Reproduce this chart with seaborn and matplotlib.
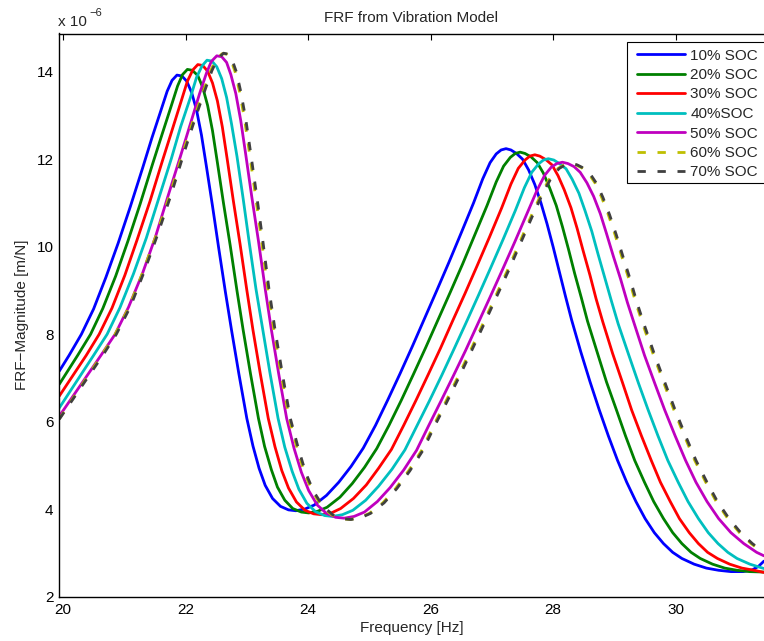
import matplotlib
matplotlib.use("Agg")
import matplotlib.pyplot as plt
import matplotlib.patches as mpatches
import seaborn as sns
import pandas as pd

# ---------------- data (FRF magnitude, units of 1e-6 m/N) ----------------
freq_10 = [19.94, 20.1, 20.3, 20.5, 20.7, 20.9, 21.1, 21.3, 21.45, 21.6, 21.7, 21.78, 21.86, 21.94,
           22.02, 22.1, 22.18, 22.26, 22.34, 22.44, 22.54, 22.65, 22.75, 22.87, 23.0, 23.1, 23.2, 23.3,
           23.42, 23.55, 23.68, 23.8, 23.95, 24.1, 24.3, 24.5, 24.7, 24.9, 25.1, 25.3, 25.5, 25.7,
           25.9, 26.1, 26.3, 26.5, 26.7, 26.85, 26.97, 27.07, 27.15, 27.23, 27.31, 27.4, 27.5, 27.6,
           27.7, 27.8, 27.9, 28.0, 28.1, 28.2, 28.3, 28.45, 28.6, 28.75, 28.9, 29.05, 29.2, 29.35,
           29.5, 29.65, 29.8, 29.95, 30.1, 30.3, 30.5, 30.7, 30.9, 31.1, 31.25, 31.35, 31.44]
mag_10 = [7.16, 7.52, 8.0, 8.58, 9.3, 10.08, 10.92, 11.8, 12.48, 13.12, 13.55, 13.8, 13.92, 13.9,
          13.78, 13.52, 13.12, 12.55, 11.84, 10.93, 9.98, 8.97, 8.1, 7.1, 6.08, 5.45, 4.94, 4.55,
          4.25, 4.07, 3.99, 3.97, 4.01, 4.1, 4.32, 4.62, 4.98, 5.4, 5.92, 6.5, 7.1, 7.72,
          8.36, 9.0, 9.65, 10.32, 11.0, 11.55, 11.92, 12.12, 12.21, 12.24, 12.21, 12.13, 12.0, 11.75,
          11.42, 11.0, 10.52, 9.99, 9.43, 8.87, 8.33, 7.6, 6.92, 6.28, 5.68, 5.12, 4.62, 4.18,
          3.79, 3.47, 3.22, 3.02, 2.88, 2.75, 2.66, 2.61, 2.58, 2.58, 2.62, 2.7, 2.82]

freq_20 = [19.94, 20.24, 20.45, 20.65, 20.86, 21.06, 21.26, 21.46, 21.62, 21.77, 21.87, 21.95, 22.03, 22.11,
           22.2, 22.28, 22.36, 22.44, 22.52, 22.62, 22.73, 22.84, 22.94, 23.06, 23.19, 23.29, 23.4, 23.5,
           23.62, 23.75, 23.89, 24.01, 24.16, 24.31, 24.52, 24.72, 24.92, 25.12, 25.32, 25.52, 25.72, 25.92,
           26.12, 26.32, 26.52, 26.72, 26.92, 27.07, 27.19, 27.3, 27.38, 27.46, 27.54, 27.64, 27.74, 27.84,
           27.94, 28.05, 28.15, 28.25, 28.35, 28.46, 28.56, 28.72, 28.87, 29.03, 29.18, 29.33, 29.49, 29.64,
           29.8, 29.95, 30.1, 30.25, 30.4, 30.6, 30.8, 31.0, 31.2, 31.44]
mag_20 = [6.86, 7.52, 8.0, 8.59, 9.33, 10.13, 10.98, 11.88, 12.58, 13.23, 13.67, 13.93, 14.05, 14.03,
          13.91, 13.64, 13.23, 12.65, 11.92, 10.99, 10.02, 8.99, 8.1, 7.1, 6.08, 5.44, 4.91, 4.51,
          4.21, 4.02, 3.94, 3.92, 3.96, 4.05, 4.28, 4.59, 4.96, 5.39, 5.92, 6.49, 7.09, 7.7,
          8.33, 8.96, 9.6, 10.27, 10.94, 11.48, 11.84, 12.04, 12.13, 12.16, 12.13, 12.05, 11.92, 11.68,
          11.35, 10.94, 10.46, 9.94, 9.39, 8.83, 8.3, 7.58, 6.91, 6.28, 5.68, 5.12, 4.62, 4.18,
          3.79, 3.47, 3.22, 3.02, 2.88, 2.75, 2.66, 2.61, 2.58, 2.57]

freq_30 = [19.94, 20.38, 20.59, 20.8, 21.01, 21.21, 21.42, 21.62, 21.78, 21.93, 22.03, 22.12, 22.2, 22.28,
           22.36, 22.44, 22.52, 22.6, 22.68, 22.78, 22.89, 23.0, 23.1, 23.22, 23.35, 23.46, 23.57, 23.68,
           23.81, 23.95, 24.09, 24.22, 24.38, 24.53, 24.74, 24.95, 25.15, 25.36, 25.56, 25.76, 25.96, 26.16,
           26.36, 26.56, 26.76, 26.96, 27.16, 27.31, 27.43, 27.54, 27.62, 27.7, 27.78, 27.88, 27.98, 28.08,
           28.18, 28.29, 28.39, 28.49, 28.6, 28.7, 28.81, 28.97, 29.13, 29.28, 29.44, 29.6, 29.75, 29.91,
           30.06, 30.22, 30.37, 30.52, 30.68, 30.88, 31.08, 31.28, 31.44]
mag_30 = [6.59, 7.52, 8.0, 8.6, 9.35, 10.16, 11.04, 11.95, 12.66, 13.33, 13.78, 14.04, 14.16, 14.14,
          14.01, 13.74, 13.33, 12.74, 12.0, 11.05, 10.06, 9.01, 8.1, 7.1, 6.08, 5.43, 4.89, 4.49,
          4.17, 3.98, 3.9, 3.88, 3.92, 4.02, 4.25, 4.56, 4.94, 5.37, 5.92, 6.49, 7.08, 7.68,
          8.31, 8.93, 9.57, 10.22, 10.89, 11.43, 11.79, 11.98, 12.07, 12.1, 12.07, 11.99, 11.87, 11.62,
          11.3, 10.89, 10.42, 9.9, 9.35, 8.81, 8.28, 7.56, 6.9, 6.27, 5.68, 5.12, 4.62, 4.18,
          3.79, 3.47, 3.22, 3.02, 2.88, 2.75, 2.66, 2.61, 2.56]

freq_40 = [19.94, 20.5, 20.72, 20.93, 21.15, 21.36, 21.56, 21.77, 21.92, 22.08, 22.18, 22.27, 22.35, 22.43,
           22.51, 22.59, 22.67, 22.75, 22.84, 22.94, 23.04, 23.15, 23.26, 23.38, 23.51, 23.62, 23.74, 23.85,
           23.98, 24.12, 24.27, 24.4, 24.56, 24.73, 24.94, 25.15, 25.37, 25.58, 25.78, 25.98, 26.18, 26.38,
           26.58, 26.78, 26.98, 27.18, 27.38, 27.53, 27.65, 27.76, 27.84, 27.92, 28.01, 28.1, 28.21, 28.31,
           28.42, 28.52, 28.63, 28.73, 28.84, 28.95, 29.06, 29.23, 29.39, 29.55, 29.71, 29.87, 30.04, 30.2,
           30.37, 30.53, 30.69, 30.85, 31.0, 31.21, 31.44]
mag_40 = [6.32, 7.52, 8.0, 8.61, 9.38, 10.2, 11.09, 12.02, 12.74, 13.41, 13.87, 14.13, 14.26, 14.24,
          14.11, 13.84, 13.41, 12.81, 12.06, 11.1, 10.09, 9.03, 8.11, 7.1, 6.08, 5.42, 4.87, 4.46,
          4.14, 3.95, 3.86, 3.84, 3.88, 3.98, 4.21, 4.53, 4.92, 5.36, 5.92, 6.48, 7.06, 7.66,
          8.27, 8.89, 9.52, 10.16, 10.82, 11.35, 11.7, 11.89, 11.98, 12.01, 11.98, 11.9, 11.78, 11.54,
          11.22, 10.82, 10.35, 9.84, 9.3, 8.76, 8.24, 7.54, 6.89, 6.27, 5.68, 5.12, 4.62, 4.18,
          3.79, 3.47, 3.22, 3.02, 2.88, 2.75, 2.65]

freq_50 = [19.94, 20.62, 20.85, 21.07, 21.3, 21.51, 21.71, 21.92, 22.08, 22.23, 22.34, 22.42, 22.51, 22.59,
           22.67, 22.74, 22.82, 22.9, 22.98, 23.08, 23.19, 23.3, 23.4, 23.52, 23.65, 23.77, 23.89, 24.01,
           24.15, 24.3, 24.45, 24.59, 24.75, 24.92, 25.13, 25.34, 25.56, 25.77, 25.97, 26.17, 26.37, 26.57,
           26.77, 26.97, 27.17, 27.37, 27.57, 27.73, 27.86, 27.97, 28.06, 28.15, 28.24, 28.34, 28.44, 28.55,
           28.66, 28.77, 28.87, 28.98, 29.1, 29.21, 29.33, 29.49, 29.66, 29.82, 29.99, 30.16, 30.33, 30.51,
           30.7, 30.9, 31.11, 31.32, 31.44]
mag_50 = [6.13, 7.52, 8.0, 8.62, 9.4, 10.23, 11.14, 12.08, 12.81, 13.5, 13.96, 14.23, 14.36, 14.34,
          14.21, 13.93, 13.5, 12.89, 12.13, 11.15, 10.13, 9.04, 8.11, 7.1, 6.08, 5.4, 4.85, 4.43,
          4.1, 3.91, 3.82, 3.8, 3.84, 3.94, 4.18, 4.5, 4.9, 5.35, 5.92, 6.48, 7.05, 7.63,
          8.24, 8.85, 9.47, 10.1, 10.75, 11.27, 11.63, 11.82, 11.9, 11.93, 11.9, 11.83, 11.7, 11.46,
          11.15, 10.75, 10.3, 9.79, 9.26, 8.73, 8.21, 7.52, 6.87, 6.27, 5.68, 5.12, 4.62, 4.18,
          3.79, 3.47, 3.22, 3.02, 2.94]

freq_60 = [19.94, 20.63, 20.85, 21.08, 21.3, 21.52, 21.74, 21.95, 22.12, 22.29, 22.41, 22.5, 22.6, 22.67,
           22.74, 22.81, 22.88, 22.96, 23.04, 23.14, 23.24, 23.34, 23.44, 23.56, 23.69, 23.82, 23.94, 24.07,
           24.22, 24.38, 24.53, 24.68, 24.84, 25.0, 25.22, 25.43, 25.64, 25.85, 26.05, 26.25, 26.45, 26.65,
           26.85, 27.05, 27.25, 27.45, 27.65, 27.82, 27.96, 28.08, 28.18, 28.28, 28.37, 28.47, 28.58, 28.69,
           28.79, 28.9, 29.01, 29.12, 29.24, 29.35, 29.47, 29.64, 29.81, 29.97, 30.14, 30.31, 30.49, 30.66,
           30.85, 31.04, 31.23, 31.42, 31.44]
mag_60 = [6.07, 7.52, 8.0, 8.63, 9.41, 10.26, 11.17, 12.12, 12.86, 13.55, 14.02, 14.29, 14.41, 14.4,
          14.27, 13.99, 13.55, 12.94, 12.17, 11.18, 10.15, 9.05, 8.11, 7.1, 6.08, 5.4, 4.84, 4.41,
          4.08, 3.88, 3.79, 3.77, 3.81, 3.91, 4.15, 4.48, 4.88, 5.34, 5.92, 6.47, 7.04, 7.63,
          8.23, 8.84, 9.45, 10.09, 10.73, 11.25, 11.6, 11.79, 11.87, 11.9, 11.87, 11.8, 11.67, 11.44,
          11.13, 10.73, 10.27, 9.77, 9.24, 8.71, 8.2, 7.51, 6.87, 6.27, 5.68, 5.12, 4.62, 4.18,
          3.79, 3.47, 3.22, 3.02, 3.0]

freq_70 = [19.94, 20.65, 20.87, 21.1, 21.32, 21.54, 21.76, 21.97, 22.14, 22.31, 22.43, 22.52, 22.62, 22.69,
           22.76, 22.83, 22.9, 22.98, 23.06, 23.16, 23.26, 23.36, 23.46, 23.58, 23.71, 23.84, 23.96, 24.09,
           24.24, 24.4, 24.55, 24.7, 24.86, 25.02, 25.24, 25.45, 25.66, 25.87, 26.07, 26.27, 26.47, 26.67,
           26.87, 27.07, 27.27, 27.47, 27.67, 27.84, 27.98, 28.1, 28.2, 28.3, 28.39, 28.49, 28.6, 28.71,
           28.81, 28.92, 29.03, 29.14, 29.26, 29.37, 29.49, 29.66, 29.83, 29.99, 30.16, 30.33, 30.51, 30.68,
           30.87, 31.06, 31.25, 31.44]
mag_70 = [6.06, 7.52, 8.0, 8.63, 9.41, 10.26, 11.17, 12.12, 12.86, 13.55, 14.02, 14.29, 14.42, 14.4,
          14.27, 13.99, 13.55, 12.94, 12.17, 11.18, 10.15, 9.05, 8.11, 7.1, 6.08, 5.4, 4.84, 4.41,
          4.08, 3.88, 3.79, 3.77, 3.81, 3.91, 4.15, 4.48, 4.88, 5.34, 5.92, 6.47, 7.04, 7.63,
          8.23, 8.84, 9.45, 10.09, 10.73, 11.25, 11.6, 11.79, 11.87, 11.9, 11.87, 11.8, 11.67, 11.44,
          11.13, 10.73, 10.27, 9.77, 9.24, 8.71, 8.2, 7.51, 6.87, 6.27, 5.68, 5.12, 4.62, 4.18,
          3.79, 3.47, 3.22, 3.02]

labels = ["10% SOC", "20% SOC", "30% SOC", "40%SOC", "50% SOC", "60% SOC", "70% SOC"]
xticks = [20, 22, 24, 26, 28, 30]
yticks = [2, 4, 6, 8, 10, 12, 14]

series = [(freq_10, mag_10), (freq_20, mag_20), (freq_30, mag_30), (freq_40, mag_40),
          (freq_50, mag_50), (freq_60, mag_60), (freq_70, mag_70)]
for lab, (fx, fy) in zip(labels, series):
    if len(fx) != len(fy):
        raise ValueError(f"{lab}: {len(fx)} vs {len(fy)}")

# ---------------- style ----------------
colors = ["#0000ff", "#008000", "#ff0000", "#00bfbf", "#bf00bf", "#bfbf00", "#404040"]
styles = ["-", "-", "-", "-", "-", (0, (3.0, 4.2)), (0, (3.0, 4.2))]

sns.set_style("white")
plt.rcParams["font.family"] = ["Liberation Sans", "DejaVu Sans"]
plt.rcParams["axes.unicode_minus"] = True

W, H = 764, 641
fig = plt.figure(figsize=(W / 100, H / 100), dpi=100)
ax = fig.add_axes([59 / W, 44 / H, 1 - 59 / W, (597 - 33.5) / H])

frames = []
for (fx, fy), lab in zip(series, labels):
    frames.append(pd.DataFrame({"Frequency": fx, "FRF": fy, "SOC": lab}))
df = pd.concat(frames, ignore_index=True)

for lab, col, ls in zip(labels, colors, styles):
    sub = df[df["SOC"] == lab]
    sns.lineplot(data=sub, x="Frequency", y="FRF", color=col, linestyle=ls,
                 linewidth=2.0, sort=False, estimator=None, label=lab, ax=ax)

ax.set_xlim(19.935, 31.44)
ax.set_ylim(2, 14.87)
ax.set_xticks(xticks)
ax.set_yticks(yticks)
ax.set_xticklabels([str(t) for t in xticks])
ax.set_yticklabels([str(t) for t in yticks])
ax.tick_params(direction="in", length=4.5, width=0.8, labelsize=11, top=True, right=False,
               colors="black", pad=4)
for side in ["left", "bottom", "top"]:
    ax.spines[side].set_color("black")
    ax.spines[side].set_linewidth(1.0)
ax.spines["right"].set_visible(False)

ax.set_xlabel("Frequency [Hz]", fontsize=11, labelpad=3)
ax.set_ylabel("FRF\u2212Magnitude [m/N]", fontsize=11, labelpad=5)
ax.set_title("FRF from Vibration Model", fontsize=11, pad=8)

fig.text(58 / W, 1 - 26 / H, "x 10", fontsize=11, ha="left", va="baseline")
fig.text(89 / W, 1 - 16 / H, "\u22126", fontsize=8, ha="left", va="baseline")

# legend box (its right side runs off the canvas, as in the reference)
box = mpatches.Rectangle((626.7 / W, 1 - 183.3 / H), (775 - 626.7) / W, (183.3 - 42.3) / H,
                         transform=fig.transFigure, facecolor="white", edgecolor="black",
                         linewidth=0.8, clip_on=False, zorder=4)
ax.add_patch(box)
leg = ax.legend(loc="upper left", bbox_to_anchor=(636.7 / W, 1 - 48.5 / H),
                bbox_transform=fig.transFigure, fontsize=11, frameon=False,
                handlelength=3.15, handletextpad=0.37, labelspacing=0.36,
                borderpad=0, borderaxespad=0)
leg.set_zorder(5)

fig.savefig("out.png", dpi=100)
